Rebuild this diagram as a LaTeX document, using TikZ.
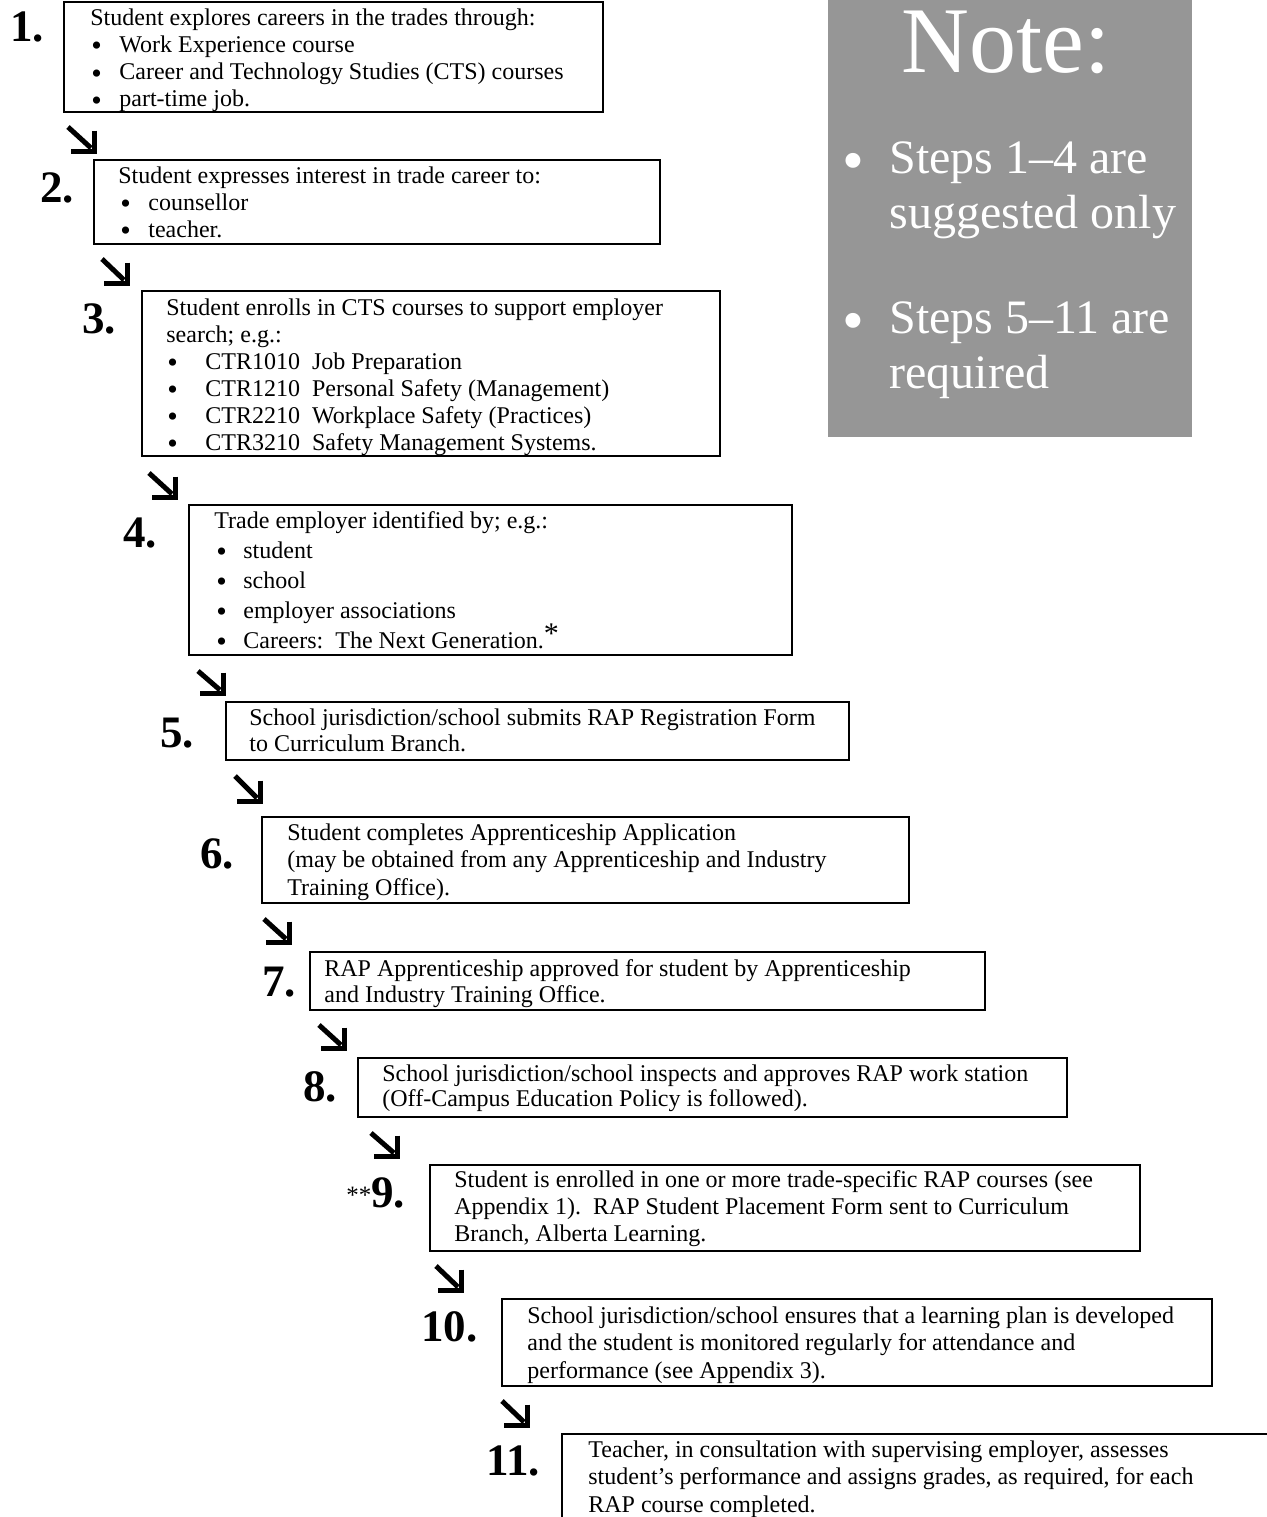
\documentclass[tikz,border=0pt]{standalone}
\usepackage{fontspec}
\usepackage{graphicx}
\setmainfont{Liberation Serif}
\usetikzlibrary{fit}
\definecolor{notegray}{RGB}{150,150,150}
\newcommand{\boxtext}[2]{\parbox[t]{620pt}{\fontsize{12pt}{#1}\selectfont #2}}
\newcommand{\bigbul}{\raisebox{-1.8pt}[0pt][0pt]{\scalebox{1.25}{\textbullet}}}
\newcommand{\notebul}{\raisebox{-4pt}[0pt][0pt]{\scalebox{1.3}{\textbullet}}}
\newcommand{\bitem}[2]{\hspace*{#1}\makebox[#2][l]{\bigbul}}
\newcommand{\flowarrow}[5]{%
  \coordinate (#1s) at (#2+3,#3+3);
  \coordinate (#1e) at (#4-5,#5-5);
  \coordinate (#1c) at (#4-1.5,#5-1.5);
  \draw[arrowshaft] (#1s) -- (#1e);
  \draw[arrowhead] (#1c) ++(0,-21) -- (#1c) -- ++(-24,0);
}
\begin{document}
\begin{tikzpicture}[x=0.5pt,y=-0.5pt,
  frame/.style={draw, line width=0.8pt, inner sep=0pt},
  frameline/.style={line width=0.8pt},
  steplabel/.style={anchor=base west, inner sep=0pt, font=\fontsize{22.5pt}{22.5pt}\selectfont\bfseries},
  steptext/.style={anchor=base west, inner sep=0pt},
  arrowshaft/.style={line width=2.5pt, line cap=butt},
  arrowhead/.style={line width=2.7pt, line cap=butt, miter limit=10},
  notetext/.style={text=white, inner sep=0pt}
]
\useasboundingbox (0,0) rectangle (1267,1517);

% Note box
\node[fill=notegray, inner sep=0pt, fit={(828,0) (1192,437)}] (notebox) {};
\node[notetext, anchor=base, font=\fontsize{47pt}{47pt}\selectfont] (notetitle) at (1006,72) {Note:};
\node[notetext, anchor=base west, font=\fontsize{24pt}{24pt}\selectfont] (nb1) at (842,173) {\notebul};
\node[notetext, anchor=base west] (nt1) at (889,173) {\parbox[t]{300pt}{\fontsize{24pt}{27.5pt}\selectfont Steps 1--4 are\\ suggested only}};
\node[notetext, anchor=base west, font=\fontsize{24pt}{24pt}\selectfont] (nb2) at (842,333) {\notebul};
\node[notetext, anchor=base west] (nt2) at (889,333) {\parbox[t]{300pt}{\fontsize{24pt}{27.5pt}\selectfont Steps 5--11 are\\ required}};

% Boxes
\node[frame, fit={(64,2) (603,112)}] (box1) {};
\node[frame, fit={(94,160) (660,244)}] (box2) {};
\node[frame, fit={(142,291) (720,456)}] (box3) {};
\node[frame, fit={(189,505) (792,655)}] (box4) {};
\node[frame, fit={(226,702) (849,760)}] (box5) {};
\node[frame, fit={(262,817) (909,903)}] (box6) {};
\node[frame, fit={(310,952) (985,1010)}] (box7) {};
\node[frame, fit={(358,1058) (1067,1117)}] (box8) {};
\node[frame, fit={(430,1165) (1140,1251)}] (box9) {};
\node[frame, fit={(502,1299) (1212,1386)}] (box10) {};
\coordinate (b11bl) at (562,1517);
\coordinate (b11tl) at (562,1434);
\coordinate (b11tr) at (1267,1434);
\draw[frameline] (b11bl) -- (b11tl) -- (b11tr);

% Labels
\node[steplabel] (l1) at (10,41) {1.};
\node[steplabel] (l2) at (40,202) {2.};
\node[steplabel] (l3) at (82,333) {3.};
\node[steplabel] (l4) at (123,547) {4.};
\node[steplabel] (l5) at (160,747) {5.};
\node[steplabel] (l6) at (200,868) {6.};
\node[steplabel] (l7) at (262,996) {7.};
\node[steplabel] (l8) at (303,1101) {8.};
\node[steplabel] (l9) at (346,1207) {\raisebox{2pt}{\fontsize{12.5pt}{12.5pt}\selectfont\mdseries **}9.};
\node[steplabel] (l10) at (421,1341) {10.};
\node[steplabel] (l11) at (486,1475) {11.};

% Texts
\node[steptext] (t1) at (90,25) {\boxtext{13.6pt}{Student explores careers in the trades through:\\
\bitem{0.5pt}{14pt}Work Experience course\\
\bitem{0.5pt}{14pt}Career and Technology Studies (CTS) courses\\
\bitem{0.5pt}{14pt}part-time job.}};
\node[steptext] (t2) at (118,183) {\boxtext{13.5pt}{Student expresses interest in trade career to:\\
\bitem{1pt}{14pt}counsellor\\
\bitem{1pt}{14pt}teacher.}};
\node[steptext] (t3) at (166,315) {\boxtext{13.5pt}{Student enrolls in CTS courses to support employer\\
search; e.g.:\\
\bitem{0.5pt}{19pt}CTR1010\ \ Job Preparation\\
\bitem{0.5pt}{19pt}CTR1210\ \ Personal Safety (Management)\\
\bitem{0.5pt}{19pt}CTR2210\ \ Workplace Safety (Practices)\\
\bitem{0.5pt}{19pt}CTR3210\ \ Safety Management Systems.}};
\node[steptext] (t4) at (214,528) {\boxtext{15pt}{Trade employer identified by; e.g.:\\
\bitem{1pt}{13.5pt}student\\
\bitem{1pt}{13.5pt}school\\
\bitem{1pt}{13.5pt}employer associations\\
\bitem{1pt}{13.5pt}Careers:\ \ The Next Generation.\raisebox{2.5pt}{\fontsize{15pt}{15pt}\selectfont *}}};
\node[steptext] (t5) at (249,725) {\boxtext{13pt}{School jurisdiction/school submits RAP Registration Form\\
to Curriculum Branch.}};
\node[steptext] (t6) at (287,840) {\boxtext{13.75pt}{Student completes Apprenticeship Application\\
(may be obtained from any Apprenticeship and Industry\\
Training Office).}};
\node[steptext] (t7) at (324,976) {\boxtext{13pt}{RAP Apprenticeship approved for student by Apprenticeship\\
and Industry Training Office.}};
\node[steptext] (t8) at (382,1081) {\boxtext{12.5pt}{School jurisdiction/school inspects and approves RAP work station\\
(Off-Campus Education Policy is followed).}};
\node[steptext] (t9) at (454,1187) {\boxtext{13.6pt}{Student is enrolled in one or more trade-specific RAP courses (see\\
Appendix 1).\ \ RAP Student Placement Form sent to Curriculum\\
Branch, Alberta Learning.}};
\node[steptext] (t10) at (527,1323) {\boxtext{13.75pt}{School jurisdiction/school ensures that a learning plan is developed\\
and the student is monitored regularly for attendance and\\
performance (see Appendix 3).}};
\node[steptext] (t11) at (588,1457) {\boxtext{13.75pt}{Teacher, in consultation with supervising employer, assesses\\
student’s performance and assigns grades, as required, for each\\
RAP course completed.}};

% Arrows
\flowarrow{a1}{65}{124}{96}{153}
\flowarrow{a2}{99}{256}{129}{285}
\flowarrow{a3}{146}{470}{177}{499}
\flowarrow{a4}{195}{668}{225}{695}
\flowarrow{a5}{232}{773}{262}{803}
\flowarrow{a6}{261}{916}{291}{944}
\flowarrow{a7}{316}{1022}{346}{1050}
\flowarrow{a8}{368}{1130}{399}{1158}
\flowarrow{a9}{433}{1263}{463}{1292}
\flowarrow{a10}{499}{1398}{529}{1427}
\end{tikzpicture}
\end{document}
